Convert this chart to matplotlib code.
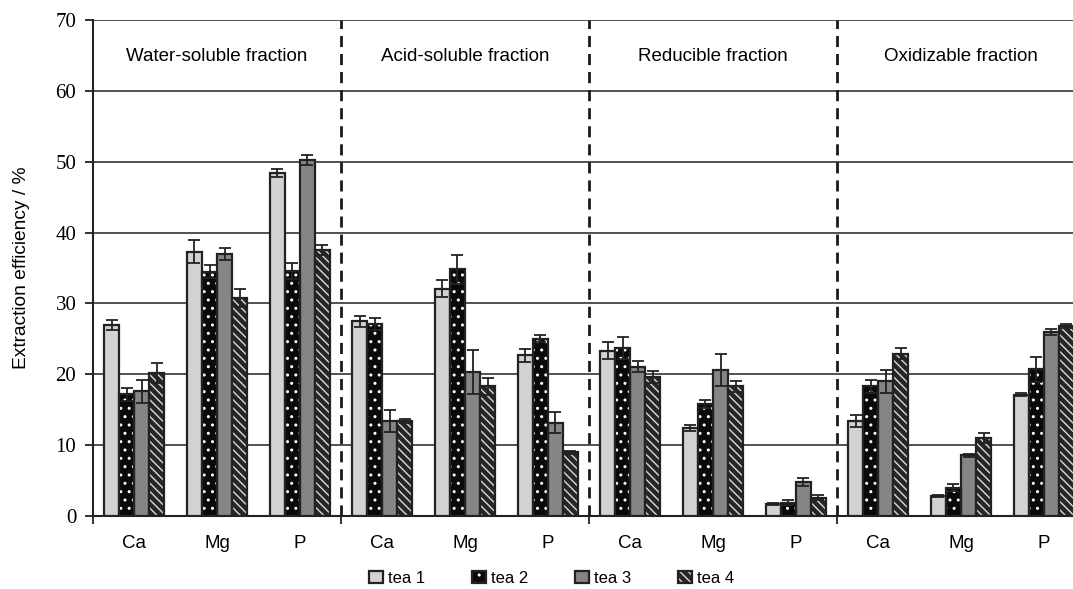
import numpy as np
import matplotlib
matplotlib.use('Agg')
import matplotlib.pyplot as plt
from matplotlib.patches import Patch

plt.rcParams['font.family'] = 'Liberation Sans'

# Data (extraction efficiency, %)
fractions = ['Water-soluble fraction', 'Acid-soluble fraction', 'Reducible fraction', 'Oxidizable fraction']
elements = ['Ca', 'Mg', 'P']
series = ['tea 1', 'tea 2', 'tea 3', 'tea 4']

tea1 = [26.9, 37.3, 48.4, 27.5, 32.1, 22.7, 23.3, 12.4, 1.7, 13.4, 2.8, 17.1]
tea2 = [17.2, 34.5, 34.6, 27.1, 34.8, 25.0, 23.7, 15.8, 1.9, 18.3, 4.0, 20.7]
tea3 = [17.6, 37.0, 50.2, 13.4, 20.3, 13.2, 21.1, 20.6, 4.8, 19.0, 8.6, 26.0]
tea4 = [20.2, 30.8, 37.6, 13.4, 18.3, 9.0, 19.6, 18.3, 2.6, 22.9, 11.0, 26.8]

err1 = [0.7, 1.6, 0.6, 0.8, 1.2, 0.9, 1.2, 0.4, 0.1, 0.8, 0.1, 0.2]
err2 = [0.9, 0.9, 1.1, 0.8, 2.1, 0.5, 1.5, 0.6, 0.4, 0.9, 0.5, 1.8]
err3 = [1.6, 0.9, 0.7, 1.6, 3.1, 1.5, 0.8, 2.2, 0.5, 1.6, 0.2, 0.4]
err4 = [1.4, 1.3, 0.7, 0.3, 1.2, 0.2, 0.8, 0.8, 0.4, 0.8, 0.7, 0.3]

values = [tea1, tea2, tea3, tea4]
errors = [err1, err2, err3, err4]

# bar styles: (facecolor, hatch, hatch colour)
styles = [('#d2d2d2', None, None),
          ('#0a0a0a', '..', 'white'),
          ('#858585', None, None),
          ('#262626', '\\\\\\\\', '#dadada')]

edge = '#222222'
fig = plt.figure(figsize=(10.73, 5.89), dpi=100)
ax = fig.add_axes([0.0867, 0.1239, 1 - 0.0867, 0.842])

n = len(fractions) * len(elements)
x = np.arange(n)
w = 0.182
offsets = (np.arange(4) - 1.5) * w

handles = []
for k in range(4):
    fc, hatch, hc = styles[k]
    xs = x + offsets[k]
    if hatch:
        ax.bar(xs, values[k], w, color=fc, edgecolor=hc, hatch=hatch, linewidth=0, zorder=3)
        ax.bar(xs, values[k], w, fill=False, edgecolor=edge, linewidth=1.6, zorder=4)
        h = (Patch(facecolor=fc, edgecolor=hc, hatch=hatch, linewidth=0),
             Patch(fill=False, edgecolor=edge, linewidth=1.6))
    else:
        ax.bar(xs, values[k], w, color=fc, edgecolor=edge, linewidth=1.6, zorder=3)
        h = Patch(facecolor=fc, edgecolor=edge, linewidth=1.6)
    ax.errorbar(xs, values[k], yerr=errors[k], fmt='none', ecolor='#222222',
                elinewidth=1.3, capsize=4, capthick=1.3, zorder=5)
    handles.append(h)

ax.set_ylim(0, 70)
ax.set_xlim(-0.5, 11.355)
ax.set_yticks(range(0, 71, 10))
ax.yaxis.grid(True, color='#333333', linewidth=1.2, zorder=0)
ax.set_axisbelow(True)
for lbl in ax.get_yticklabels():
    lbl.set_fontfamily('Liberation Serif')
    lbl.set_fontsize(15)
ax.tick_params(axis='y', direction='out', length=6, width=1.3, color='#222222', pad=6)

ax.set_xticks(x)
ax.set_xticklabels(elements * len(fractions), fontsize=13.5)
ax.tick_params(axis='x', length=0, pad=14)
ax.set_xticks([-0.5, 2.5, 5.5, 8.5], minor=True)
ax.tick_params(axis='x', which='minor', direction='out', length=6, width=1.3, color='#222222')

for s in ['top', 'right']:
    ax.spines[s].set_visible(False)
for s in ['left', 'bottom']:
    ax.spines[s].set_linewidth(1.5)
    ax.spines[s].set_color('#222222')

for b in [2.5, 5.5, 8.5]:
    ax.axvline(b, color='#1a1a1a', linestyle=(0, (4, 2.5)), linewidth=2, zorder=6)

for i, f in enumerate(fractions):
    ax.text(i * 3 + 1, 64.8, f, ha='center', va='center', fontsize=13.5)

ax.set_ylabel('Extraction efficiency / %', fontsize=13.8, labelpad=8)
ax.yaxis.set_label_coords(-0.064, 0.5)

fig.legend(handles, series, loc='lower center', bbox_to_anchor=(0.514, -0.02), ncol=4,
           frameon=False, fontsize=12, handlelength=0.8, handleheight=0.8,
           handletextpad=0.3, columnspacing=2.85)

fig.savefig('out.png', dpi=100)
